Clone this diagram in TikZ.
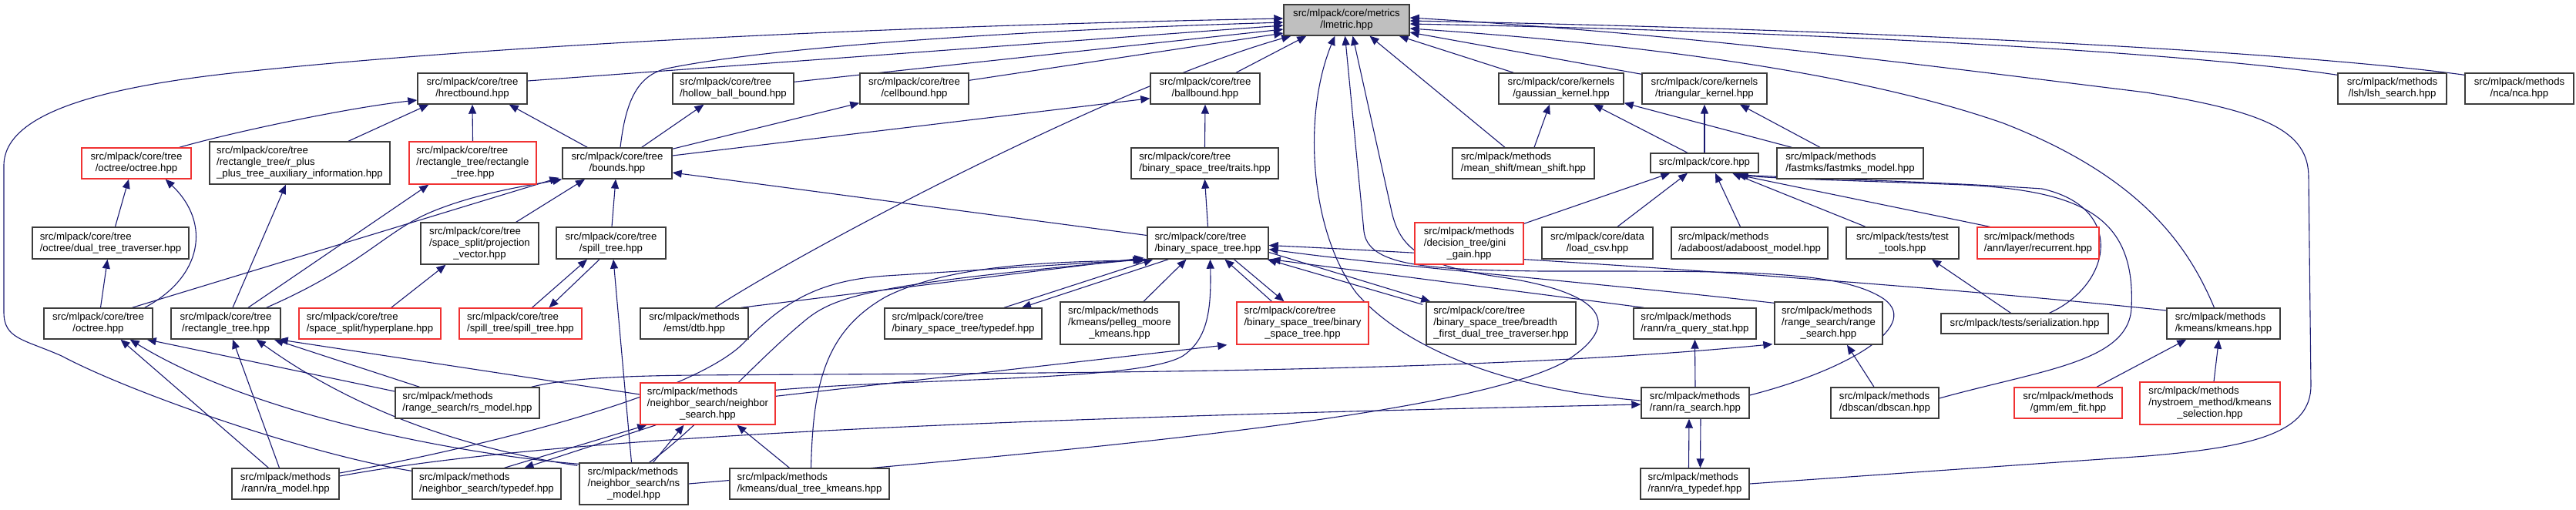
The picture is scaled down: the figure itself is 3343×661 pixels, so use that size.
\documentclass[tikz,border=0pt]{standalone}
\usepackage{fontspec}
\setmainfont{Liberation Sans}
\usetikzlibrary{arrows.meta,calc}
\definecolor{ec}{RGB}{25,25,112}
\definecolor{bc}{RGB}{60,60,60}
\definecolor{rc}{RGB}{240,50,50}
\definecolor{gc}{RGB}{191,191,191}
\pgfdeclarelayer{bg}
\pgfsetlayers{bg,main}
\newcommand\tl[1]{\begin{tabular}{@{}l@{}}#1\end{tabular}}
\newcommand\mc[1]{\multicolumn{1}{@{}c@{}}{#1}}
\newcommand\bx[7]{\node[#6,minimum width={(#4-#2)*0.5pt},minimum height={(#5-#3)*0.5pt}] (#1) at ({(#2+#4)/2},{(#3+#5)/2}) {#7};}
\begin{document}
\begin{tikzpicture}[x=0.5pt,y=-0.5pt,
  box/.style={draw=bc,line width=0.7pt,fill=white,inner sep=0pt,align=center,font=\fontsize{6.6}{7.5}\selectfont},
  rbox/.style={box,draw=rc},
  gbox/.style={box,fill=gc},
  e/.style={draw=ec,line width=0.55pt,-{Triangle[length=6pt,width=5pt]}}]
\useasboundingbox (0,0) rectangle (3343,661);
\renewcommand\arraystretch{1}
% row 0
\bx{lmetric}{1666}{6}{1829}{46}{gbox}{\tl{src/mlpack/core/metrics\\\mc{/lmetric.hpp}}}
% row 1
\bx{hrect}{542}{95}{684}{135}{box}{\tl{src/mlpack/core/tree\\\mc{/hrectbound.hpp}}}
\bx{hollow}{873}{95}{1030}{135}{box}{\tl{src/mlpack/core/tree\\\mc{/hollow\_ball\_bound.hpp}}}
\bx{cell}{1116}{95}{1257}{135}{box}{\tl{src/mlpack/core/tree\\\mc{/cellbound.hpp}}}
\bx{ball}{1493}{95}{1635}{135}{box}{\tl{src/mlpack/core/tree\\\mc{/ballbound.hpp}}}
\bx{gauss}{1945}{95}{2107}{135}{box}{\tl{src/mlpack/core/kernels\\\mc{/gaussian\_kernel.hpp}}}
\bx{tri}{2131}{95}{2293}{135}{box}{\tl{src/mlpack/core/kernels\\\mc{/triangular\_kernel.hpp}}}
\bx{lsh}{3034}{95}{3175}{135}{box}{\tl{src/mlpack/methods\\\mc{/lsh/lsh\_search.hpp}}}
\bx{nca}{3199}{95}{3340}{135}{box}{\tl{src/mlpack/methods\\\mc{/nca/nca.hpp}}}
% row 2
\bx{ococ}{106}{192}{248}{232}{rbox}{\tl{src/mlpack/core/tree\\\mc{/octree/octree.hpp}}}
\bx{rppaux}{272}{184}{506}{239}{box}{\tl{src/mlpack/core/tree\\/rectangle\_tree/r\_plus\\\mc{\_plus\_tree\_auxiliary\_information.hpp}}}
\bx{rtrt}{531}{184}{696}{239}{rbox}{\tl{src/mlpack/core/tree\\/rectangle\_tree/rectangle\\\mc{\_tree.hpp}}}
\bx{bounds}{730}{192}{872}{232}{box}{\tl{src/mlpack/core/tree\\\mc{/bounds.hpp}}}
\bx{traits}{1468}{192}{1659}{232}{box}{\tl{src/mlpack/core/tree\\\mc{/binary\_space\_tree/traits.hpp}}}
\bx{meanshift}{1885}{192}{2069}{232}{box}{\tl{src/mlpack/methods\\\mc{/mean\_shift/mean\_shift.hpp}}}
\bx{core}{2142}{199}{2282}{224}{box}{src/mlpack/core.hpp}
\bx{fastmks}{2306}{192}{2496}{232}{box}{\tl{src/mlpack/methods\\\mc{/fastmks/fastmks\_model.hpp}}}
% row 3
\bx{dtt}{42}{295}{245}{336}{box}{\tl{src/mlpack/core/tree\\\mc{/octree/dual\_tree\_traverser.hpp}}}
\bx{projvec}{546}{289}{699}{343}{box}{\tl{src/mlpack/core/tree\\/space\_split/projection\\\mc{\_vector.hpp}}}
\bx{spill}{722}{295}{864}{336}{box}{\tl{src/mlpack/core/tree\\\mc{/spill\_tree.hpp}}}
\bx{bst}{1489}{295}{1646}{336}{box}{\tl{src/mlpack/core/tree\\\mc{/binary\_space\_tree.hpp}}}
\bx{gini}{1836}{289}{1977}{343}{rbox}{\tl{src/mlpack/methods\\/decision\_tree/gini\\\mc{\_gain.hpp}}}
\bx{loadcsv}{2001}{295}{2145}{336}{box}{\tl{src/mlpack/core/data\\\mc{/load\_csv.hpp}}}
\bx{adaboost}{2169}{295}{2372}{336}{box}{\tl{src/mlpack/methods\\\mc{/adaboost/adaboost\_model.hpp}}}
\bx{testtools}{2396}{295}{2542}{336}{box}{\tl{src/mlpack/tests/test\\\mc{\_tools.hpp}}}
\bx{recurrent}{2566}{295}{2724}{336}{rbox}{\tl{src/mlpack/methods\\\mc{/ann/layer/recurrent.hpp}}}
% row 4
\bx{octreehpp}{57}{400}{198}{440}{box}{\tl{src/mlpack/core/tree\\\mc{/octree.hpp}}}
\bx{rthpp}{222}{400}{364}{440}{box}{\tl{src/mlpack/core/tree\\\mc{/rectangle\_tree.hpp}}}
\bx{hyper}{388}{400}{572}{440}{rbox}{\tl{src/mlpack/core/tree\\\mc{/space\_split/hyperplane.hpp}}}
\bx{spsp}{596}{400}{755}{440}{rbox}{\tl{src/mlpack/core/tree\\\mc{/spill\_tree/spill\_tree.hpp}}}
\bx{dtb}{831}{400}{971}{440}{box}{\tl{src/mlpack/methods\\\mc{/emst/dtb.hpp}}}
\bx{bsttd}{1148}{400}{1352}{440}{box}{\tl{src/mlpack/core/tree\\\mc{/binary\_space\_tree/typedef.hpp}}}
\bx{pelleg}{1376}{392}{1530}{447}{box}{\tl{src/mlpack/methods\\/kmeans/pelleg\_moore\\\mc{\_kmeans.hpp}}}
\bx{bstbst}{1605}{392}{1776}{447}{rbox}{\tl{src/mlpack/core/tree\\/binary\_space\_tree/binary\\\mc{\_space\_tree.hpp}}}
\bx{bfdtt}{1851}{392}{2045}{447}{box}{\tl{src/mlpack/core/tree\\/binary\_space\_tree/breadth\\\mc{\_first\_dual\_tree\_traverser.hpp}}}
\bx{raqs}{2120}{400}{2279}{440}{box}{\tl{src/mlpack/methods\\\mc{/rann/ra\_query\_stat.hpp}}}
\bx{rangesearch}{2303}{392}{2443}{447}{box}{\tl{src/mlpack/methods\\/range\_search/range\\\mc{\_search.hpp}}}
\bx{serial}{2519}{407}{2736}{433}{box}{src/mlpack/tests/serialization.hpp}
\bx{kmeans}{2812}{400}{2959}{440}{box}{\tl{src/mlpack/methods\\\mc{/kmeans/kmeans.hpp}}}
% row 5
\bx{rsmodel}{513}{503}{700}{543}{box}{\tl{src/mlpack/methods\\\mc{/range\_search/rs\_model.hpp}}}
\bx{nsearch}{831}{497}{1006}{551}{rbox}{\tl{src/mlpack/methods\\/neighbor\_search/neighbor\\\mc{\_search.hpp}}}
\bx{rasearch}{2130}{503}{2270}{543}{box}{\tl{src/mlpack/methods\\\mc{/rann/ra\_search.hpp}}}
\bx{dbscan}{2376}{503}{2516}{543}{box}{\tl{src/mlpack/methods\\\mc{/dbscan/dbscan.hpp}}}
\bx{emfit}{2614}{503}{2754}{543}{rbox}{\tl{src/mlpack/methods\\\mc{/gmm/em\_fit.hpp}}}
\bx{nystroem}{2777}{496}{2959}{551}{rbox}{\tl{src/mlpack/methods\\/nystroem\_method/kmeans\\\mc{\_selection.hpp}}}
% row 6
\bx{ramodel}{301}{608}{440}{648}{box}{\tl{src/mlpack/methods\\\mc{/rann/ra\_model.hpp}}}
\bx{nstd}{535}{608}{728}{648}{box}{\tl{src/mlpack/methods\\\mc{/neighbor\_search/typedef.hpp}}}
\bx{nsmodel}{752}{601}{893}{655}{box}{\tl{src/mlpack/methods\\/neighbor\_search/ns\\\mc{\_model.hpp}}}
\bx{dtkmeans}{947}{608}{1154}{648}{box}{\tl{src/mlpack/methods\\\mc{/kmeans/dual\_tree\_kmeans.hpp}}}
\bx{ratd}{2129}{608}{2270}{648}{box}{\tl{src/mlpack/methods\\\mc{/rann/ra\_typedef.hpp}}}
\begin{pgfonlayer}{bg}
% ---- edges into lmetric
\draw[e] ($(hrect.east)+(0,-10)$) -- ($(lmetric.west)+(0,7)$);
\draw[e] ($(hollow.north east)+(0,12)$) -- ($(lmetric.west)+(0,12)$);
\draw[e] ($(cell.north east)+(0,10)$) -- ($(lmetric.west)+(0,17)$);
\draw[e] ($(ball.north)+(40,0)$) -- ($(lmetric.south west)+(30,0)$);
\draw[e] ($(bounds.north)+(4,0)$) .. controls (812,130) and (828,95) .. (870,88) .. controls (1000,62) and (1300,40) .. ($(lmetric.west)+(0,3)$);
\draw[e] ($(nstd.north west)+(0,4)$) .. controls (400,590) and (170,510) .. (80,462) .. controls (30,440) and (5,440) .. (5,405) -- (5,215) .. controls (5,150) and (120,115) .. (300,95) .. controls (600,62) and (1100,35) .. ($(lmetric.west)+(0,-2)$);
\draw[e] ($(dtb.north)+(27,0)$) .. controls (1050,320) and (1450,110) .. ($(lmetric.south west)+(10,0)$);
\draw[e] ($(gauss.north west)+(20,0)$) -- ($(lmetric.south east)+(-14,0)$);
\draw[e] ($(tri.north west)+(0,2)$) -- ($(lmetric.east)+(0,16)$);
\draw[e] ($(meanshift.north)+(-24,0)$) -- ($(lmetric.south)+(30,0)$);
\draw[e] ($(lsh.north west)+(0,3)$) .. controls (2850,70) and (2400,42) .. ($(lmetric.east)+(0,5)$);
\draw[e] ($(nca.north west)+(0,3)$) .. controls (3000,70) and (2500,40) .. ($(lmetric.east)+(0,1)$);
\draw[e] ($(kmeans.north)+(-12,0)$) .. controls (2840,320) and (2780,230) .. (2600,160) .. controls (2400,90) and (2100,55) .. ($(lmetric.east)+(0,11)$);
\draw[e] (ratd.east) -- (2785,592) .. controls (2930,580) and (2999,560) .. (2999,500) -- (2996,230) .. controls (2996,170) and (2940,145) .. (2785,120) .. controls (2500,85) and (2200,45) .. ($(lmetric.east)+(0,-3)$);
\draw[e] (nsmodel.east) .. controls (1400,585) and (1900,540) .. (2030,470) .. controls (2110,420) and (2080,380) .. (1950,360) .. controls (1840,345) and (1815,320) .. (1805,270) -- ($(lmetric.south)+(8,0)$);
\draw[e] ($(rasearch.west)+(0,-3)$) .. controls (1950,505) and (1820,450) .. (1760,380) .. controls (1700,300) and (1690,150) .. ($(lmetric.south west)+(67,0)$);
\draw[e] ($(rasearch.east)+(0,-10)$) .. controls (2400,480) and (2500,420) .. (2440,385) .. controls (2380,350) and (2250,352) .. (2000,352) .. controls (1850,350) and (1775,345) .. (1770,300) -- ($(lmetric.south)+(-2,0)$);
% ---- tree bounds
\draw[e] ($(bounds.north west)+(33,0)$) -- ($(hrect.south east)+(-24,0)$);
\draw[e] ($(bounds.north east)+(-40,0)$) -- ($(hollow.south)+(-38,0)$);
\draw[e] ($(bounds.north east)+(0,2)$) -- ($(cell.south west)+(0,-2)$);
\draw[e] ($(bounds.east)+(0,-10)$) -- ($(ball.south west)+(0,-8)$);
\draw[e] (rtrt.north) -- (hrect.south);
\draw[e] ($(rppaux.north)+(63,0)$) -- ($(hrect.south west)+(15,0)$);
\draw[e] ($(ococ.north east)+(-16,0)$) .. controls (300,172) and (450,140) .. ($(hrect.west)+(0,15)$);
\draw[e] ($(dtt.north)+(6,0)$) -- ($(ococ.south)+(-10,0)$);
\draw[e] ($(octreehpp.north east)+(-11,0)$) .. controls (262,360) and (275,290) .. ($(ococ.south east)+(-34,0)$);
\draw[e] ($(octreehpp.north)+(3,0)$) -- ($(dtt.south)+(-4,0)$);
\draw[e] ($(octreehpp.north)+(44,0)$) -- ($(bounds.south west)+(-4,-2)$);
\draw[e] ($(rthpp.north east)+(-19,0)$) .. controls (470,345) and (500,300) .. (560,275) .. controls (620,250) and (690,240) .. ($(bounds.south west)+(0,0)$);
\draw[e] ($(rthpp.north)+(29,0)$) -- ($(rtrt.south west)+(26,0)$);
\draw[e] ($(rthpp.north)+(9,0)$) -- ($(rppaux.south)+(-18,0)$);
\draw[e] ($(hyper.north east)+(-65,0)$) -- ($(projvec.south)+(-44,0)$);
\draw[e] ($(projvec.north east)+(-30,0)$) -- ($(bounds.south)+(-42,0)$);
\draw[e] ($(spill.north)+(1,0)$) -- ($(bounds.south)+(-2,0)$);
\draw[e] ($(spsp.north)+(15,0)$) -- ($(spill.south)+(-31,0)$);
\draw[e] ($(spill.south)+(-15,0)$) -- ($(spsp.north)+(37,0)$);
\draw[e] ($(nsmodel.north)+(-3,0)$) -- ($(spill.south)+(3,0)$);
% ---- binary space tree
\draw[e] ($(bst.west)+(0,-10)$) -- ($(bounds.east)+(0,12)$);
\draw[e] (bst.north) -- (traits.south);
\draw[e] (traits.north) -- (ball.south);
\draw[e] ($(bsttd.north)+(53,0)$) -- ($(bst.south west)+(8,0)$);
\draw[e] ($(bst.south west)+(28,0)$) -- ($(bsttd.north)+(76,0)$);
\draw[e] ($(pelleg.north)+(31,0)$) -- ($(bst.south)+(-28,0)$);
\draw[e] ($(bstbst.north)+(-40,0)$) -- ($(bst.south)+(22,0)$);
\draw[e] ($(bst.south)+(34,0)$) -- ($(bstbst.north)+(-24,0)$);
\draw[e] ($(dtb.north east)+(-10,0)$) -- ($(bst.south west)+(-4,-2)$);
\draw[e] ($(ramodel.east)+(0,-14)$) .. controls (600,585) and (880,520) .. (960,450) .. controls (1010,400) and (1050,365) .. (1150,358) -- ($(bst.south west)+(-4,0)$);
\draw[e] ($(dtkmeans.north)+(2,0)$) .. controls (1055,500) and (1070,430) .. (1150,385) .. controls (1230,345) and (1350,340) .. ($(bst.south west)+(-2,1)$);
\draw[e] ($(nsearch.north east)+(0,10)$) .. controls (1200,490) and (1480,495) .. (1535,462) .. controls (1568,440) and (1572,400) .. ($(bst.south)+(3,0)$);
\draw[e] ($(bst.east)+(0,12)$) -- ($(bfdtt.north west)+(6,0)$);
\draw[e] ($(bfdtt.north west)+(-4,4)$) -- ($(bst.south east)+(-2,0)$);
\draw[e] ($(raqs.north west)+(14,0)$) -- ($(bst.south east)+(3,0)$);
\draw[e] ($(kmeans.west)+(0,-17)$) .. controls (2500,370) and (2000,335) .. ($(bst.east)+(0,3)$);
\draw[e] ($(rangesearch.north west)+(0,2)$) .. controls (2100,370) and (1800,345) .. ($(bst.east)+(0,8)$);
\draw[e] ($(nsearch.north east)+(0,18)$) -- ($(bstbst.south west)+(-12,0)$);
\draw[e] ($(nsmodel.north)+(20,0)$) .. controls (900,560) and (980,470) .. (1040,420) .. controls (1080,385) and (1120,370) .. ($(bst.south west)+(-6,0)$);
% ---- kernels / core
\draw[e] ($(meanshift.north)+(14,0)$) -- ($(gauss.south)+(-15,0)$);
\draw[e] ($(core.north)+(-22,0)$) -- ($(gauss.south)+(42,0)$);
\draw[e] (core.north) -- (tri.south);
\draw[e] ($(fastmks.north west)+(20,0)$) -- ($(gauss.south east)+(0,-2)$);
\draw[e] ($(fastmks.north)+(-39,0)$) -- ($(tri.south)+(46,0)$);
\draw[e] ($(gini.north east)+(0,2)$) -- ($(core.south west)+(26,0)$);
\draw[e] ($(loadcsv.north)+(26,0)$) -- ($(core.south)+(-22,0)$);
\draw[e] ($(adaboost.north)+(-12,0)$) -- ($(core.south)+(14,0)$);
\draw[e] ($(testtools.north)+(-48,0)$) -- ($(core.south)+(36,0)$);
\draw[e] ($(recurrent.north west)+(17,0)$) -- ($(core.south)+(42,2)$);
\draw[e] ($(serial.north)+(32,0)$) .. controls (2740,370) and (2760,270) .. (2650,245) .. controls (2500,235) and (2350,232) .. ($(core.south east)+(-30,2)$);
\draw[e] ($(dbscan.east)+(0,-6)$) .. controls (2650,480) and (2762,470) .. (2766,400) .. controls (2772,280) and (2700,248) .. (2550,240) .. controls (2400,234) and (2300,232) .. ($(core.south east)+(-26,2)$);
\draw[e] ($(serial.north)+(-18,0)$) -- ($(testtools.south)+(38,0)$);
\draw[e] ($(dbscan.north)+(-14,0)$) -- ($(rangesearch.south)+(24,0)$);
\draw[e] ($(emfit.north)+(37,0)$) -- ($(kmeans.south west)+(26,0)$);
\draw[e] ($(nystroem.north)+(5,0)$) -- ($(kmeans.south)+(-6,0)$);
\draw[e] (rasearch.north) -- (raqs.south);
\draw[e] ($(ratd.north)+(-8,0)$) -- ($(rasearch.south)+(-8,0)$);
\draw[e] ($(rasearch.south)+(7,0)$) -- ($(ratd.north)+(7,0)$);
\draw[e] ($(rsmodel.north east)+(-11,0)$) .. controls (730,492) and (800,488) .. (900,487) .. controls (1300,484) and (1900,486) .. ($(rangesearch.south west)+(-2,-1)$);
% ---- lower left
\draw[e] ($(ramodel.north)+(-22,0)$) -- ($(octreehpp.south)+(29,0)$);
\draw[e] ($(ramodel.north)+(-8,0)$) -- ($(rthpp.south)+(9,0)$);
\draw[e] ($(ramodel.east)+(0,-10)$) .. controls (700,570) and (1200,545) .. ($(rasearch.west)+(0,2)$);
\draw[e] ($(nsmodel.north west)+(0,2)$) .. controls (600,590) and (330,540) .. ($(octreehpp.south east)+(-30,0)$);
\draw[e] ($(nsmodel.north west)+(-2,4)$) .. controls (620,585) and (470,540) .. ($(rthpp.south east)+(-32,0)$);
\draw[e] ($(rsmodel.west)+(0,-15)$) -- ($(octreehpp.south east)+(-8,0)$);
\draw[e] ($(rsmodel.north)+(-62,0)$) -- ($(rthpp.south east)+(-9,0)$);
\draw[e] ($(nsearch.west)+(0,-12)$) -- ($(rthpp.south east)+(-3,0)$);
\draw[e] ($(nstd.north)+(23,0)$) -- ($(nsearch.south west)+(9,0)$);
\draw[e] ($(nsearch.south west)+(21,0)$) -- ($(nstd.north)+(49,0)$);
\draw[e] ($(nsmodel.north)+(25,0)$) -- ($(nsearch.south)+(-31,0)$);
\draw[e] ($(dtkmeans.north)+(-26,0)$) -- ($(nsearch.south)+(38,0)$);
\end{pgfonlayer}
\end{tikzpicture}
\end{document}
